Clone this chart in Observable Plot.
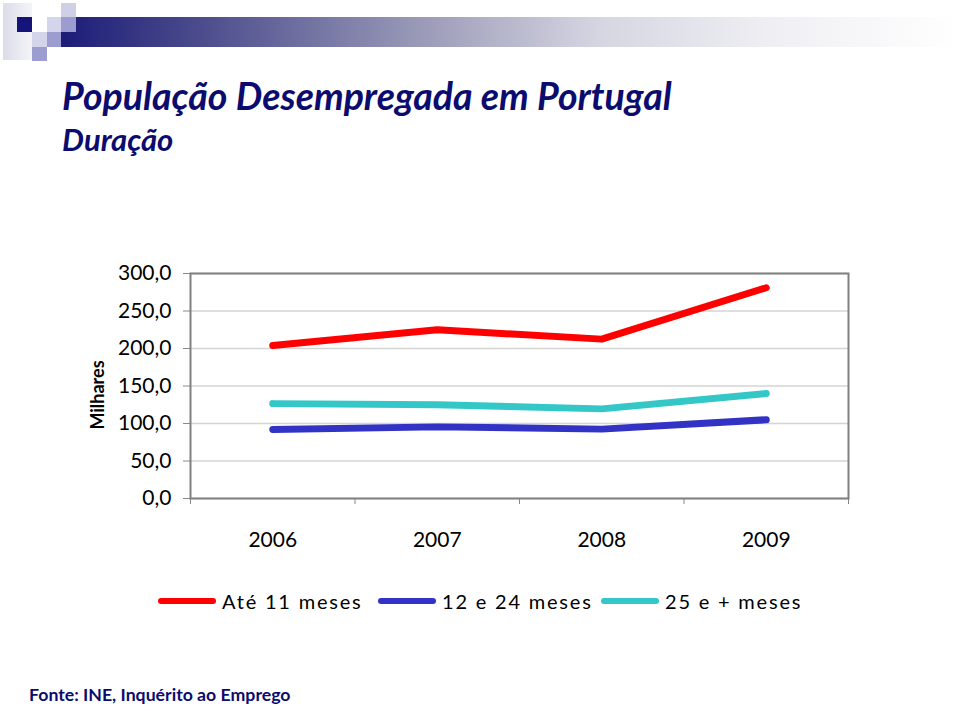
<!DOCTYPE html>
<html>
<head>
<meta charset="utf-8">
<script src="https://cdn.jsdelivr.net/npm/d3@7"></script>
<script src="https://cdn.jsdelivr.net/npm/@observablehq/plot@0.6"></script>
<style>
  html, body { margin: 0; padding: 0; background: #fff; }
  #slide { position: relative; width: 960px; height: 711px; overflow: hidden; font-family: Lato, "DejaVu Sans", sans-serif; }
  .abs { position: absolute; }
  #title { left: 62px; top: 77px; font-size: 37.5px; line-height: 38px; font-style: italic; font-weight: 700; color: #0c0c6e; white-space: nowrap; }
  #subtitle { left: 62px; top: 124px; font-size: 31px; line-height: 31px; font-style: italic; font-weight: 700; color: #0c0c6e; white-space: nowrap; }
  #caption { left: 29px; top: 684px; font-size: 17.7px; font-weight: 700; color: #0c0c6e; white-space: nowrap; }
  #ylabel { left: 97px; top: 395px; transform: translate(-50%, -50%) rotate(-90deg); font-size: 18px; font-weight: 700; color: #000; white-space: nowrap; }
  #chart { left: 0; top: 250px; }
  .leg { display: flex; align-items: center; position: absolute; top: 589px; font-size: 20px; color: #000; white-space: nowrap; }
  .sw { width: 58px; height: 6px; border-radius: 3px; margin-right: 6px; }
</style>
</head>
<body>
<div id="slide">
  <div class="abs" style="left:61px; top:17px; width:899px; height:30px; background: linear-gradient(to right, #1c1c78 0%, #4a4a8c 15%, #9a9ab8 40%, #d6d6e2 60%, #f0f0f4 80%, #ffffff 100%);"></div>
  <div class="abs" style="left:3px; top:3px; width:29px; height:57px; background: linear-gradient(to right, #dcdcea, #f4f4f8);"></div>
  <div class="abs" style="left:17px; top:17px; width:15px; height:15px; background:#14147a;"></div>
  <div class="abs" style="left:61px; top:3px; width:15px; height:14px; background:#cfcfe6;"></div>
  <div class="abs" style="left:47px; top:17px; width:14px; height:15px; background:#d4d4ea;"></div>
  <div class="abs" style="left:61px; top:17px; width:15px; height:15px; background:#9c9cd0;"></div>
  <div class="abs" style="left:32px; top:32px; width:15px; height:15px; background:#d4d4ea;"></div>
  <div class="abs" style="left:47px; top:32px; width:14px; height:15px; background:#9c9cd0;"></div>
  <div class="abs" style="left:32px; top:47px; width:15px; height:14px; background:#9c9cd0;"></div>

  <div id="title" class="abs">População Desempregada em Portugal</div>
  <div id="subtitle" class="abs">Duração</div>
  <div id="ylabel" class="abs">Milhares</div>
  <div id="chart" class="abs"></div>
  <div id="legend"></div>
  <div id="caption" class="abs">Fonte: INE, Inquérito ao Emprego</div>
</div>
<script>
const years = [2006, 2007, 2008, 2009];
const ate11Meses = [204, 225, 212.5, 281];
const de12a24Meses = [92, 95.5, 92.5, 105];
const de25MaisMeses = [126.5, 125, 119.5, 140];
const seriesNames = ["Até 11 meses", "12 e 24 meses", "25 e + meses"];
const seriesColors = ["#ff0000", "#3232c4", "#33c7c7"];
const yTicks = [0, 50, 100, 150, 200, 250, 300];

const seriesValues = [ate11Meses, de12a24Meses, de25MaisMeses];
const data = [];
seriesNames.forEach((name, i) => {
  years.forEach((yr, j) => data.push({ series: name, year: yr, value: seriesValues[i][j] }));
});
const boundaries = [years[0] - 0.5, ...years.map(y => y + 0.5)];
const fmt = d => d.toFixed(1).replace(".", ",");

const chart = Plot.plot({
  width: 960,
  height: 310,
  marginLeft: 190,
  marginRight: 112,
  marginTop: 23,
  marginBottom: 62,
  style: { fontFamily: "Lato, sans-serif", color: "#000", background: "transparent" },
  x: { type: "linear", domain: [years[0] - 0.5, years[years.length - 1] + 0.5] },
  y: { domain: [0, 300] },
  color: { domain: seriesNames, range: seriesColors },
  marks: [
    Plot.gridY(yTicks, { stroke: "#d4d4d4", strokeOpacity: 1, strokeWidth: 1.5 }),
    Plot.axisY(yTicks, { tickFormat: fmt, tickSize: 7, tickPadding: 12, fontSize: 21, stroke: "#888", label: null, fill: "#000" }),
    Plot.axisX(boundaries, { tickFormat: () => "", tickSize: 6, stroke: "#888", label: null }),
    Plot.axisX(years, { tickFormat: d => String(d), tickSize: 0, tickPadding: 34, fontSize: 21, label: null, fill: "#000" }),
    Plot.frame({ stroke: "#808080", strokeWidth: 2 }),
    Plot.line(data, { x: "year", y: "value", z: "series", stroke: "series", strokeWidth: 7, strokeLinecap: "round", strokeLinejoin: "round" })
  ]
});
document.getElementById("chart").appendChild(chart);

const legendLefts = [158, 378, 601];
const legend = document.getElementById("legend");
seriesNames.forEach((name, i) => {
  const item = document.createElement("div");
  item.className = "leg";
  item.style.left = legendLefts[i] + "px";
  const sw = document.createElement("div");
  sw.className = "sw";
  sw.style.background = seriesColors[i];
  const t = document.createElement("span");
  t.textContent = name;
  t.style.letterSpacing = "1.8px";
  item.appendChild(sw);
  item.appendChild(t);
  legend.appendChild(item);
});
</script>
</body>
</html>
